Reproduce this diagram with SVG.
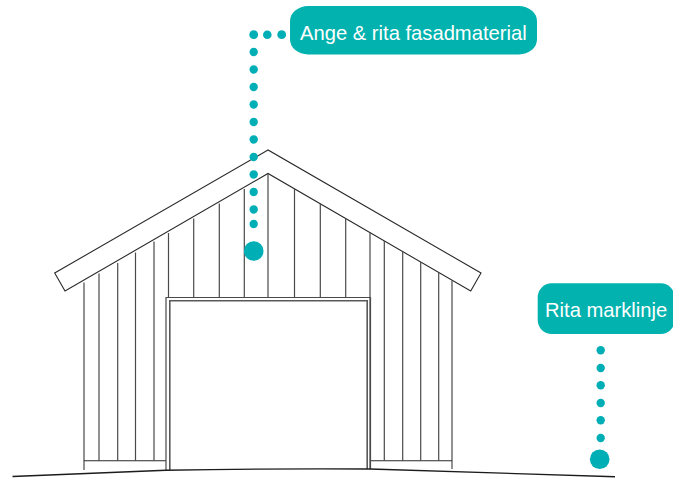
<svg xmlns="http://www.w3.org/2000/svg" width="673" height="478" viewBox="0 0 673 478">
<style>
.l{fill:none;stroke:#2a2a2a;stroke-width:1.100;stroke-linejoin:miter}
.p{fill:none;stroke:#4a4a4a;stroke-width:1.200}
.dr{fill:none;stroke:#5a5a5a;stroke-width:1.600}
.g{fill:none;stroke:#1c1c1c;stroke-width:1.400}
.lb{fill:#02b2ae}
.d{fill:#00aeb6}
.t{fill:#fff;font-family:"Liberation Sans",Arial,sans-serif;font-size:20.200px}
</style>
<rect width="673" height="478" fill="#fff"/>
<g id="building">
<path class="l" d="M268 150L54.700 273L65 291L268 173.500L470.700 291L481 273Z"/>
<path class="p" d="M84 282.500V470M99 273.500V460.500M117.700 263V460.500M135.500 252.500V460.500M154 241.500V460.500M168.500 233V297M193.700 218.500V297M219.300 203.500V297M244.300 189V297M268 173.500V297M294.500 189V297M320.300 203.500V297M345.700 218.500V297M370 232.500V469M384.300 241V460.500M402.700 251.500V460.500M420.700 262V460.500M438.700 272.500V460.500M452 280.500V469"/>
<path class="l" d="M84 460.700H166M370 460.700H452"/>
<path class="p" d="M166 470V297.500H370.500V469"/>
<path class="dr" d="M169.800 470V300.700H367.200V469"/>
<path class="g" d="M12.500 476.500L166 470.300Q268 468.400 370 469L615 476.700"/>
</g>
<g id="connectors">
<g class="d">
<circle cx="281.700" cy="34.700" r="4.400"/><circle cx="267.300" cy="34.700" r="4.300"/><circle cx="253.700" cy="34.700" r="4.400"/>
<circle cx="253.700" cy="52" r="4.200"/><circle cx="253.700" cy="69.500" r="4.200"/><circle cx="253.700" cy="87" r="4.200"/><circle cx="253.700" cy="104.500" r="4.200"/><circle cx="253.700" cy="122" r="4.200"/><circle cx="253.700" cy="139.500" r="4.200"/><circle cx="253.700" cy="157" r="4.200"/><circle cx="253.700" cy="174.500" r="4.200"/><circle cx="253.700" cy="192" r="4.200"/><circle cx="253.700" cy="209.500" r="4.200"/><circle cx="253.700" cy="224" r="4.200"/>
<circle cx="253.700" cy="251" r="9.800"/>
<circle cx="600.700" cy="350.300" r="4.200"/><circle cx="600.700" cy="368" r="4.200"/><circle cx="600.700" cy="385.300" r="4.200"/><circle cx="600.700" cy="403" r="4.200"/><circle cx="600.700" cy="420.300" r="4.200"/><circle cx="600.700" cy="438" r="4.200"/>
<circle cx="599.700" cy="459.300" r="9.800"/>
</g>
</g>
<g id="label-fasad">
<rect class="lb" x="290" y="6" width="247" height="48.500" rx="18" ry="15"/>
<text class="t" x="300" y="40">Ange &amp; rita fasadmaterial</text>
</g>
<g id="label-mark">
<rect class="lb" x="537.700" y="283.300" width="137" height="50.700" rx="14"/>
<text class="t" x="545" y="316.500">Rita marklinje</text>
</g>
</svg>
